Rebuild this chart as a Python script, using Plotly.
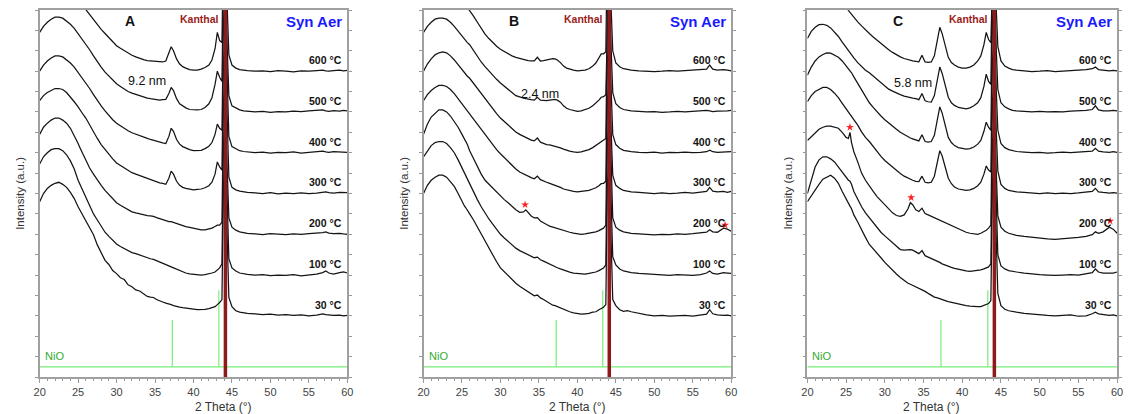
import plotly.graph_objects as go

# ---------------- data ----------------
TWO_THETA = [
    20, 20.5, 21, 21.5, 22, 22.5, 23, 23.5, 24, 24.5, 25,
    25.3, 25.5, 25.7,
    26, 26.5, 27, 27.5, 28, 28.5, 29, 29.5, 30, 30.5, 31, 31.5, 32, 32.5, 33,
    33.3, 33.6, 34, 34.4, 34.8, 35.2, 35.6, 36, 36.4, 36.8, 37.1, 37.4, 37.8, 38.2, 38.6, 39,
    39.5, 40, 40.5, 41, 41.5, 42,
    42.4, 42.8, 43.1, 43.4, 43.7, 43.9, 44.1, 44.4, 44.6, 45,
    45.5, 46, 46.5, 47,
    48, 49, 50, 51, 52, 53, 54, 55, 56,
    56.8, 57.2, 57.6, 58.2, 59, 59.5, 60]

TEMPS = ["30 °C", "100 °C", "200 °C", "300 °C", "400 °C", "500 °C", "600 °C"]
STACK_OFFSETS = [3, 5, 7, 9, 11, 13, 15]

# ---- Panel A (intensity above each pattern's own baseline) ----
A_30 = [5.6, 6.0, 6.25, 6.4, 6.5, 6.55, 6.45, 6.3, 6.05, 5.75, 5.35,
        5.15, 5.0, 4.9,
        4.65, 4.3, 3.98, 3.48, 3.07, 2.72, 2.52, 2.22, 2.07, 1.87, 1.78, 1.52, 1.43, 1.27, 1.22,
        1.15, 1.05, 0.95, 0.92, 0.9, 0.8, 0.72, 0.68, 0.62, 0.6, 0.55, 0.5, 0.45, 0.43, 0.4, 0.37,
        0.35, 0.33, 0.3, 0.3, 0.32, 0.35,
        0.4, 0.45, 0.55, 0.65, 0.8, 6.5, 7.5, 3.0, 0.9, 0.45,
        0.25, 0.18, 0.15, 0.12,
        0.1, 0.06, 0.08, 0.03, 0.06, 0.02, 0.05, 0.0, 0.04,
        0.1, 0.06, 0.03, 0.02, 0.04, 0.0, 0.02]
A_100 = [5.45, 5.8, 6.0, 6.15, 6.2, 6.2, 6.1, 5.9, 5.6, 5.2, 4.65,
         4.4, 4.2, 4.0,
         3.75, 3.35, 3.0, 2.7, 2.4, 2.1, 1.9, 1.7, 1.52, 1.4, 1.3, 1.2, 1.1, 1.05, 0.98,
         0.95, 0.9, 0.85, 0.8, 0.77, 0.7, 0.62, 0.55, 0.5, 0.45, 0.4, 0.35, 0.28, 0.22, 0.15, 0.1,
         0.06, 0.04, 0.02, 0.0, 0.02, 0.05,
         0.1, 0.15, 0.25, 0.35, 0.55, 6.5, 7.5, 3.0, 0.8, 0.35,
         0.2, 0.1, 0.05, 0.03,
         0.0, 0.02, -0.03, 0.0, -0.02, 0.02, -0.04, 0.0, 0.05,
         0.12, 0.2, 0.1, 0.05, 0.12, 0.15, 0.1]
A_200 = [4.9, 5.25, 5.45, 5.6, 5.7, 5.7, 5.6, 5.45, 5.2, 4.85, 4.45,
         4.2, 4.05, 3.9,
         3.6, 3.25, 2.95, 2.65, 2.4, 2.15, 1.95, 1.75, 1.55, 1.42, 1.3, 1.2, 1.1, 1.05, 1.0,
         0.98, 0.95, 0.92, 0.9, 0.88, 0.82, 0.76, 0.7, 0.66, 0.62, 0.62, 0.58, 0.52, 0.46, 0.42, 0.38,
         0.34, 0.3, 0.25, 0.22, 0.22, 0.25,
         0.3, 0.38, 0.45, 0.45, 0.6, 6.5, 7.5, 3.0, 0.8, 0.35,
         0.2, 0.12, 0.08, 0.05,
         0.02, -0.02, 0.03, 0.0, -0.02, 0.02, 0.0, 0.03, 0.05,
         0.08, 0.12, 0.06, 0.03, 0.05, 0.02, 0.0]
A_300 = [4.55, 4.8, 4.95, 5.05, 5.15, 5.15, 5.1, 4.95, 4.75, 4.5, 4.25,
         4.05, 3.95, 3.85,
         3.7, 3.35, 3.0, 2.7, 2.4, 2.15, 1.9, 1.7, 1.5, 1.38, 1.25, 1.12, 1.02, 0.95, 0.88,
         0.85, 0.8, 0.72, 0.68, 0.62, 0.58, 0.52, 0.5, 0.45, 0.75, 1.1, 0.95, 0.6, 0.4, 0.3, 0.25,
         0.2, 0.18, 0.2, 0.22, 0.28, 0.38,
         0.55, 0.95, 1.55, 1.3, 1.15, 6.5, 7.5, 3.0, 0.8, 0.3,
         0.18, 0.12, 0.08, 0.05,
         0.03, 0.0, 0.04, -0.02, 0.02, 0.0, 0.03, 0.0, 0.02,
         0.05, 0.08, 0.04, 0.02, 0.05, 0.03, 0.04]
A_400 = [4.0, 4.3, 4.5, 4.65, 4.75, 4.75, 4.7, 4.55, 4.4, 4.2, 3.95,
         3.8, 3.7, 3.6,
         3.45, 3.15, 2.85, 2.55, 2.3, 2.05, 1.82, 1.62, 1.45, 1.32, 1.2, 1.08, 0.98, 0.9, 0.85,
         0.8, 0.75, 0.7, 0.65, 0.6, 0.55, 0.5, 0.48, 0.45, 0.8, 1.2, 1.05, 0.65, 0.42, 0.3, 0.22,
         0.15, 0.1, 0.1, 0.12, 0.2, 0.32,
         0.5, 0.9, 1.4, 1.2, 1.1, 6.5, 7.5, 3.0, 0.8, 0.3,
         0.18, 0.1, 0.06, 0.04,
         0.0, 0.03, -0.02, 0.02, 0.0, 0.04, -0.02, 0.02, 0.05,
         0.08, 0.04, 0.02, 0.05, 0.03, 0.0, 0.02]
A_500 = [3.9, 4.2, 4.4, 4.55, 4.65, 4.65, 4.6, 4.45, 4.3, 4.1, 3.85,
         3.7, 3.6, 3.5,
         3.35, 3.05, 2.75, 2.45, 2.2, 1.95, 1.75, 1.55, 1.38, 1.25, 1.12, 1.0, 0.92, 0.85, 0.8,
         0.75, 0.72, 0.68, 0.65, 0.62, 0.6, 0.58, 0.6, 0.62, 0.9, 1.2, 1.05, 0.65, 0.4, 0.28, 0.2,
         0.12, 0.1, 0.1, 0.12, 0.22, 0.4,
         0.7, 1.35, 2.0, 1.7, 1.5, 6.5, 7.5, 3.0, 0.8, 0.3,
         0.18, 0.1, 0.05, 0.03,
         0.0, 0.03, -0.02, 0.02, 0.0, 0.04, 0.02, 0.05, 0.08,
         0.1, 0.05, 0.03, 0.06, 0.04, 0.08, 0.05]
A_600 = [3.7, 4.0, 4.2, 4.3, 4.35, 4.35, 4.3, 4.15, 3.95, 3.75, 3.5,
         3.35, 3.25, 3.15,
         3.0, 2.75, 2.5, 2.25, 2.05, 1.85, 1.65, 1.45, 1.25, 1.12, 1.0, 0.88, 0.78, 0.7, 0.62,
         0.58, 0.55, 0.52, 0.5, 0.48, 0.46, 0.45, 0.45, 0.5, 0.85, 1.2, 1.0, 0.6, 0.35, 0.22, 0.15,
         0.08, 0.05, 0.05, 0.1, 0.18, 0.3,
         0.55, 1.1, 1.9, 1.5, 1.4, 6.5, 7.5, 3.0, 0.8, 0.3,
         0.15, 0.08, 0.05, 0.03,
         0.0, 0.02, -0.02, 0.03, 0.0, -0.03, 0.02, 0.0, 0.03,
         0.05, 0.02, 0.0, 0.03, 0.05, 0.02, 0.04]

# ---- Panel B ----
B_30 = [6.0, 6.4, 6.65, 6.8, 6.9, 6.9, 6.8, 6.6, 6.35, 6.0, 5.6,
        5.4, 5.3, 5.2,
        5.0, 4.7, 4.35, 4.0, 3.65, 3.3, 3.0, 2.65, 2.35, 2.15, 1.95, 1.75, 1.6, 1.45, 1.32,
        1.25, 1.15, 1.05, 0.98, 1.02, 0.88, 0.8, 0.7, 0.6, 0.52, 0.5, 0.45, 0.38, 0.3, 0.24, 0.2,
        0.15, 0.12, 0.08, 0.1, 0.12, 0.18,
        0.2, 0.3, 0.38, 0.42, 0.55, 6.5, 7.5, 3.0, 0.8, 0.5,
        0.3, 0.22, 0.25, 0.2,
        0.12, 0.05, 0.0, 0.02, -0.02, 0.0, 0.02, -0.02, 0.02,
        0.08, 0.3, 0.1, 0.05, 0.02, 0.04, 0.0]
B_100 = [5.8, 6.1, 6.35, 6.5, 6.55, 6.55, 6.45, 6.25, 6.0, 5.65, 5.25,
         5.0, 4.85, 4.75,
         4.5, 4.1, 3.7, 3.35, 3.02, 2.75, 2.5, 2.25, 2.0, 1.82, 1.65, 1.5, 1.32, 1.2, 1.1,
         1.05, 0.98, 0.9, 0.85, 0.88, 0.75, 0.68, 0.6, 0.52, 0.46, 0.42, 0.36, 0.3, 0.24, 0.18, 0.14,
         0.1, 0.08, 0.06, 0.05, 0.08, 0.12,
         0.15, 0.22, 0.3, 0.35, 0.5, 6.5, 7.5, 3.0, 0.9, 0.5,
         0.3, 0.2, 0.15, 0.12,
         0.08, 0.05, 0.02, 0.0, -0.02, 0.02, 0.0, -0.02, 0.02,
         0.1, 0.2, 0.08, 0.05, 0.12, 0.1, 0.08]
B_200 = [4.9, 5.4, 5.75, 5.95, 6.1, 6.1, 6.0, 5.8, 5.55, 5.25, 4.9,
         4.7, 4.55, 4.4,
         4.1, 3.7, 3.3, 2.95, 2.65, 2.45, 2.25, 2.05, 1.88, 1.7, 1.55, 1.38, 1.2, 1.08, 1.1,
         1.2, 1.05, 0.9, 0.8, 0.82, 0.65, 0.55, 0.48, 0.4, 0.35, 0.3, 0.27, 0.22, 0.18, 0.14, 0.1,
         0.06, 0.03, 0.0, 0.02, 0.05, 0.1,
         0.12, 0.18, 0.25, 0.3, 0.45, 6.5, 7.5, 3.0, 0.8, 0.35,
         0.2, 0.12, 0.08, 0.05,
         0.02, 0.0, -0.03, 0.0, -0.02, 0.02, 0.0, 0.03, 0.05,
         0.1, 0.22, 0.12, 0.1, 0.3, 0.25, 0.15]
B_300 = [4.55, 4.85, 5.05, 5.2, 5.3, 5.3, 5.25, 5.1, 4.9, 4.65, 4.35,
         4.2, 4.1, 4.02,
         3.9, 3.65, 3.35, 3.1, 2.85, 2.6, 2.4, 2.15, 1.95, 1.75, 1.55, 1.38, 1.2, 1.05, 0.95,
         0.9, 0.85, 0.78, 0.72, 0.85, 0.68, 0.6, 0.55, 0.5, 0.45, 0.42, 0.38, 0.3, 0.22, 0.18, 0.15,
         0.1, 0.08, 0.1, 0.12, 0.15, 0.22,
         0.28, 0.38, 0.48, 0.5, 0.6, 6.5, 7.5, 3.0, 0.9, 0.4,
         0.25, 0.15, 0.1, 0.08,
         0.05, 0.02, 0.0, 0.03, 0.0, 0.02, 0.05, 0.02, 0.05,
         0.1, 0.3, 0.12, 0.08, 0.1, 0.06, 0.1]
B_400 = [4.0, 4.35, 4.6, 4.8, 4.9, 4.95, 4.9, 4.75, 4.55, 4.3, 4.05,
         3.9, 3.82, 3.75,
         3.65, 3.4, 3.12, 2.88, 2.62, 2.4, 2.15, 1.92, 1.7, 1.52, 1.35, 1.18, 1.02, 0.9, 0.8,
         0.75, 0.7, 0.62, 0.58, 0.72, 0.52, 0.45, 0.4, 0.38, 0.35, 0.33, 0.3, 0.24, 0.18, 0.12, 0.08,
         0.04, 0.02, 0.04, 0.08, 0.15, 0.25,
         0.35, 0.45, 0.55, 0.6, 0.7, 6.5, 7.5, 3.0, 0.9, 0.4,
         0.22, 0.12, 0.08, 0.05,
         0.02, 0.0, 0.03, -0.02, 0.02, 0.0, 0.03, 0.0, 0.02,
         0.05, 0.12, 0.05, 0.02, 0.04, 0.02, 0.05]
B_500 = [3.9, 4.2, 4.4, 4.55, 4.6, 4.6, 4.55, 4.4, 4.2, 3.95, 3.7,
         3.55, 3.48, 3.4,
         3.3, 3.0, 2.7, 2.45, 2.22, 2.0, 1.8, 1.6, 1.42, 1.25, 1.1, 0.95, 0.8, 0.72, 0.68,
         0.65, 0.62, 0.6, 0.58, 0.72, 0.58, 0.55, 0.55, 0.58, 0.62, 0.62, 0.58, 0.48, 0.3, 0.18, 0.12,
         0.06, 0.03, 0.05, 0.1, 0.18, 0.3,
         0.42, 0.58, 0.72, 0.75, 0.85, 6.5, 7.5, 3.0, 0.95, 0.4,
         0.22, 0.12, 0.08, 0.05,
         0.03, 0.0, 0.02, -0.02, 0.0, 0.03, 0.0, 0.02, 0.05,
         0.08, 0.05, 0.02, 0.04, 0.03, 0.05, 0.08]
B_600 = [3.8, 4.1, 4.3, 4.4, 4.45, 4.45, 4.35, 4.2, 4.0, 3.75, 3.5,
         3.35, 3.25, 3.15,
         3.0, 2.7, 2.4, 2.08, 1.82, 1.6, 1.4, 1.22, 1.07, 0.95, 0.85, 0.75, 0.68, 0.62, 0.58,
         0.55, 0.52, 0.5, 0.5, 0.68, 0.5, 0.52, 0.55, 0.6, 0.62, 0.6, 0.55, 0.42, 0.25, 0.15, 0.1,
         0.05, 0.02, 0.03, 0.05, 0.12, 0.25,
         0.4, 0.65, 0.85, 0.85, 0.95, 6.5, 7.5, 3.0, 1.0, 0.4,
         0.22, 0.12, 0.08, 0.05,
         0.02, 0.0, -0.02, 0.0, 0.03, 0.0, 0.02, 0.05, 0.08,
         0.1, 0.3, 0.1, 0.05, 0.08, 0.05, 0.02]

# ---- Panel C ----
C_30 = [5.6, 5.9, 6.2, 6.45, 6.7, 6.82, 6.9, 6.75, 6.5, 6.1, 5.7,
        5.5, 5.38, 5.25,
        4.95, 4.6, 4.2, 3.85, 3.5, 3.3, 3.1, 2.85, 2.62, 2.42, 2.22, 2.05, 1.88, 1.72, 1.6,
        1.55, 1.5, 1.42, 1.35, 1.3, 1.2, 1.1, 1.0, 0.92, 0.88, 0.85, 0.8, 0.75, 0.7, 0.66, 0.62,
        0.58, 0.55, 0.5, 0.48, 0.45, 0.45,
        0.45, 0.5, 0.55, 0.6, 0.75, 6.5, 7.5, 3.0, 1.1, 0.5,
        0.32, 0.25, 0.2, 0.18,
        0.12, 0.08, 0.05, 0.02, 0.0, 0.02, 0.05, -0.02, 0.0,
        0.1, 0.18, 0.1, 0.05, 0.02, 0.05, 0.0]
C_100 = [4.0, 4.7, 5.3, 5.65, 5.8, 5.8, 5.7, 5.55, 5.3, 5.0, 4.75,
         4.65, 4.6, 4.45,
         4.1, 3.7, 3.35, 3.05, 2.8, 2.55, 2.32, 2.1, 1.92, 1.75, 1.55, 1.38, 1.25, 1.22, 1.25,
         1.25, 1.22, 1.15, 1.05, 1.2, 0.95, 0.88, 0.82, 0.75, 0.68, 0.62, 0.55, 0.48, 0.42, 0.38, 0.33,
         0.28, 0.22, 0.2, 0.18, 0.2, 0.22,
         0.25, 0.3, 0.35, 0.4, 0.55, 6.5, 7.5, 3.0, 1.0, 0.45,
         0.3, 0.22, 0.18, 0.15,
         0.1, 0.05, 0.02, 0.0, -0.02, 0.0, 0.02, 0.0, 0.05,
         0.12, 0.3, 0.15, 0.1, 0.12, 0.1, 0.15]
C_200 = [4.6, 4.8, 5.0, 5.15, 5.25, 5.3, 5.3, 5.25, 5.2, 5.0, 4.75,
         4.7, 5.0, 4.5,
         4.05, 3.55, 3.0, 2.65, 2.35, 2.1, 1.85, 1.65, 1.45, 1.25, 1.05, 0.92, 0.88, 0.95, 1.25,
         1.55, 1.45, 1.2, 1.12, 1.28, 1.02, 0.95, 0.88, 0.8, 0.72, 0.68, 0.62, 0.55, 0.48, 0.4, 0.35,
         0.25, 0.18, 0.1, 0.05, 0.02, 0.0,
         0.05, 0.12, 0.2, 0.3, 0.45, 6.5, 7.5, 3.0, 0.9, 0.35,
         0.15, 0.05, 0.0, -0.05,
         -0.1, -0.15, -0.2, -0.22, -0.25, -0.22, -0.2, -0.15, -0.1,
         -0.02, 0.12, 0.05, 0.12, 0.35, 0.25, 0.05]
C_300 = [4.5, 4.8, 5.0, 5.12, 5.2, 5.2, 5.1, 4.92, 4.7, 4.42, 4.15,
         4.0, 3.92, 3.82,
         3.65, 3.35, 3.02, 2.75, 2.55, 2.3, 2.05, 1.82, 1.62, 1.45, 1.28, 1.12, 0.98, 0.85, 0.75,
         0.7, 0.65, 0.6, 0.58, 0.85, 0.55, 0.52, 0.55, 0.85, 1.6, 2.1, 1.85, 1.25, 0.75, 0.48, 0.32,
         0.22, 0.18, 0.15, 0.18, 0.25, 0.38,
         0.55, 0.95, 1.35, 1.15, 1.05, 6.5, 7.5, 3.0, 1.1, 0.45,
         0.25, 0.15, 0.1, 0.08,
         0.05, 0.02, 0.0, 0.03, 0.0, 0.02, 0.0, 0.03, 0.05,
         0.1, 0.25, 0.08, 0.05, 0.02, 0.04, 0.02]
C_400 = [3.8, 4.2, 4.5, 4.7, 4.82, 4.9, 4.88, 4.8, 4.68, 4.5, 4.28,
         4.12, 4.02, 3.92,
         3.72, 3.4, 3.05, 2.72, 2.45, 2.22, 2.0, 1.8, 1.62, 1.45, 1.3, 1.15, 1.0, 0.88, 0.78,
         0.72, 0.68, 0.62, 0.58, 0.88, 0.55, 0.52, 0.55, 0.85, 1.6, 2.25, 1.95, 1.3, 0.75, 0.5, 0.35,
         0.25, 0.2, 0.18, 0.2, 0.28, 0.42,
         0.6, 1.05, 1.5, 1.25, 1.1, 6.5, 7.5, 3.0, 1.1, 0.45,
         0.25, 0.15, 0.1, 0.06,
         0.03, 0.0, 0.02, -0.02, 0.0, 0.03, 0.0, 0.02, 0.03,
         0.08, 0.22, 0.08, 0.04, 0.02, 0.05, 0.02]
C_500 = [3.6, 3.95, 4.15, 4.28, 4.3, 4.25, 4.12, 3.92, 3.7, 3.42, 3.15,
         3.0, 2.92, 2.82,
         2.65, 2.42, 2.22, 2.05, 1.92, 1.75, 1.58, 1.42, 1.25, 1.12, 1.02, 0.92, 0.85, 0.78, 0.72,
         0.7, 0.68, 0.65, 0.6, 0.9, 0.55, 0.5, 0.48, 0.8, 1.55, 2.2, 1.9, 1.25, 0.72, 0.45, 0.32,
         0.22, 0.18, 0.15, 0.2, 0.3, 0.45,
         0.7, 1.25, 1.85, 1.5, 1.35, 6.5, 7.5, 3.0, 1.1, 0.45,
         0.25, 0.15, 0.08, 0.05,
         0.02, 0.0, 0.03, 0.0, 0.02, 0.0, 0.04, 0.05, 0.08,
         0.12, 0.3, 0.1, 0.05, 0.05, 0.08, 0.05]
C_600 = [3.9, 4.1, 4.25, 4.32, 4.35, 4.3, 4.2, 4.02, 3.8, 3.5, 3.15,
         2.98, 2.88, 2.78,
         2.62, 2.42, 2.22, 2.02, 1.85, 1.68, 1.52, 1.35, 1.18, 1.05, 0.92, 0.8, 0.7, 0.62, 0.56,
         0.53, 0.5, 0.48, 0.46, 0.78, 0.45, 0.43, 0.45, 0.75, 1.5, 2.15, 1.85, 1.2, 0.68, 0.42, 0.3,
         0.2, 0.15, 0.15, 0.2, 0.3, 0.5,
         0.75, 1.3, 1.9, 1.55, 1.4, 6.5, 7.5, 3.0, 1.2, 0.5,
         0.25, 0.15, 0.08, 0.05,
         0.02, -0.02, 0.0, 0.03, -0.02, 0.0, 0.02, 0.05, 0.08,
         0.12, 0.2, 0.08, 0.05, 0.02, 0.04, 0.02]

# NiO reference pattern and Kanthal substrate reflection
NIO_POS = [37.25, 43.3]
NIO_REL = [2.3, 3.75]
NIO_BASE = 0.5
KANTHAL_POS = 44.15

PANEL_LETTERS = ["A", "B", "C"]
SIZE_LABELS = ["9.2 nm", "2.4 nm", "5.8 nm"]
SIZE_LABEL_X = [34.0, 35.1, 33.7]
SIZE_LABEL_Y = [14.5, 13.9, 14.4]
STAR_X = [[], [33.2, 59.2], [25.5, 33.4, 59.1]]
STAR_Y = [[], [8.45, 7.45], [12.25, 8.8, 7.65]]

PANEL_CURVES = [
    [A_30, A_100, A_200, A_300, A_400, A_500, A_600],
    [B_30, B_100, B_200, B_300, B_400, B_500, B_600],
    [C_30, C_100, C_200, C_300, C_400, C_500, C_600],
]

for curves in PANEL_CURVES:
    for c in curves:
        assert len(c) == len(TWO_THETA), len(c)

# ---------------- figure ----------------
W, H = 1130, 414
X_PX = [(34, 345), (422, 733), (810, 1123)]
Y_DOMAIN = [(H - 377) / H, (H - 10) / H]
FONT = "Liberation Sans, Arial, sans-serif"

fig = go.Figure()
shapes, annotations = [], []

for i, curves in enumerate(PANEL_CURVES):
    sfx = "" if i == 0 else str(i + 1)
    xa, ya = "x" + sfx, "y" + sfx

    # NiO reference sticks
    xs, ys = [20, 60, None], [NIO_BASE, NIO_BASE, None]
    for p, h in zip(NIO_POS, NIO_REL):
        xs += [p, p, None]
        ys += [NIO_BASE, NIO_BASE + h, None]
    fig.add_trace(go.Scatter(x=xs, y=ys, mode="lines",
                             line=dict(color="#77ee77", width=1.2),
                             xaxis=xa, yaxis=ya, showlegend=False, hoverinfo="skip"))

    for vals, off in zip(curves, STACK_OFFSETS):
        fig.add_trace(go.Scatter(x=TWO_THETA, y=[v + off for v in vals], mode="lines",
                                 line=dict(color="#141414", width=1.25),
                                 xaxis=xa, yaxis=ya, showlegend=False, hoverinfo="skip"))

    if STAR_X[i]:
        fig.add_trace(go.Scatter(x=STAR_X[i], y=STAR_Y[i], mode="markers",
                                 marker=dict(symbol="star", size=6, color="#ff2020"),
                                 xaxis=xa, yaxis=ya, showlegend=False, hoverinfo="skip"))

    shapes.append(dict(type="line", xref=xa, yref=ya, x0=KANTHAL_POS, x1=KANTHAL_POS,
                       y0=0, y1=18, layer="above",
                       line=dict(color="#8e1b1b", width=3.5)))

    x0p, x1p = X_PX[i]
    fig.update_layout(**{
        "xaxis" + sfx: dict(domain=[x0p / W, x1p / W], anchor=ya, range=[20, 60],
                            tickvals=list(range(20, 61, 5)), ticks="outside", ticklen=4,
                            tickcolor="#999", tickwidth=1, showline=True, linecolor="#a0a0a0",
                            linewidth=1.5, mirror=True, showgrid=False, zeroline=False,
                            tickfont=dict(size=11, color="#444", family=FONT),
                            minor=dict(dtick=1, ticks="outside", ticklen=2, tickcolor="#999")),
        "yaxis" + sfx: dict(domain=Y_DOMAIN, anchor=xa, range=[0, 18], tick0=0, dtick=1,
                            ticks="outside", ticklen=3, tickcolor="#999", showticklabels=False,
                            showline=True, linecolor="#a0a0a0", linewidth=1.5, mirror="ticks",
                            showgrid=False, zeroline=False),
    })

    # texts inside panel
    annotations.append(dict(xref=xa, yref=ya, x=31.7, y=17.45, text="<b>%s</b>" % PANEL_LETTERS[i],
                            showarrow=False, font=dict(size=14, color="#111", family=FONT)))
    annotations.append(dict(xref=xa, yref=ya, x=40.8, y=17.55, text="<b>Kanthal</b>",
                            showarrow=False, font=dict(size=10.5, color="#9b1b1b", family=FONT)))
    annotations.append(dict(xref=xa, yref=ya, x=59.6, y=17.45, text="<b>Syn Aer</b>",
                            xanchor="right", showarrow=False,
                            font=dict(size=15, color="#1a1aff", family=FONT)))
    annotations.append(dict(xref=xa, yref=ya, x=SIZE_LABEL_X[i], y=SIZE_LABEL_Y[i],
                            text=SIZE_LABELS[i], showarrow=False,
                            font=dict(size=12.5, color="#111", family=FONT)))
    annotations.append(dict(xref=xa, yref=ya, x=20.4, y=1.05, text="NiO", xanchor="left",
                            showarrow=False, font=dict(size=11, color="#33aa33", family=FONT)))
    for t, off in zip(TEMPS, STACK_OFFSETS):
        annotations.append(dict(xref=xa, yref=ya, x=59.6, y=off + 0.55, text="<b>%s</b>" % t,
                                xanchor="right", showarrow=False,
                                font=dict(size=10.5, color="#111", family=FONT)))
    # axis titles
    annotations.append(dict(xref="paper", yref="paper", x=(x0p + x1p) / 2 / W, y=(H - 407) / H,
                            text="2 Theta (°)", showarrow=False, yanchor="middle",
                            font=dict(size=12, color="#333", family=FONT)))
    annotations.append(dict(xref="paper", yref="paper", x=(x0p - 20) / W, y=(H - 193) / H,
                            text="Intensity (a.u.)", textangle=-90, showarrow=False,
                            xanchor="center", yanchor="middle",
                            font=dict(size=11.5, color="#333", family=FONT)))

fig.update_layout(width=W, height=H, margin=dict(l=0, r=0, t=0, b=0),
                  paper_bgcolor="white", plot_bgcolor="white",
                  font=dict(family=FONT), shapes=shapes, annotations=annotations)

fig.write_html("out.html")
